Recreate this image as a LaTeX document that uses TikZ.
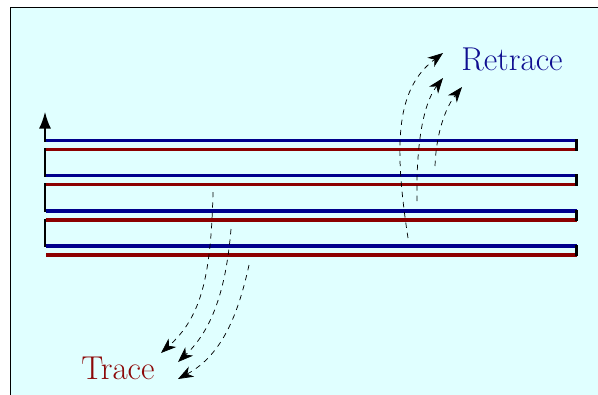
\documentclass[tikz,border=0pt]{standalone}
\usetikzlibrary{arrows.meta}
\definecolor{screenbg}{RGB}{224,255,255}
\definecolor{tracered}{RGB}{140,0,0}
\definecolor{retraceblue}{RGB}{0,0,140}
\definecolor{tracetext}{RGB}{140,8,8}
\definecolor{retracetext}{RGB}{15,15,145}
\begin{document}
\begin{tikzpicture}[x=0.75pt,y=-0.75pt,
  traceline/.style={draw=tracered, line width=2.7pt},
  retraceline/.style={draw=retraceblue, line width=2.7pt},
  flyback/.style={draw=black, line width=1.8pt},
  sweep/.style={draw=black, line width=0.55pt, dash pattern=on 4pt off 3.75pt,
    -{Stealth[length=11.5pt,width=8.5pt,inset=3.5pt]}},
  caption/.style={font=\fontsize{24.8}{30}\selectfont, inner sep=0pt, anchor=base west}]
\useasboundingbox (0,0) rectangle (598,394);
\fill[white] (0,0) rectangle (598,394);
\begin{scope}
  \clip (0,0) rectangle (598,394);
  \draw[fill=screenbg, line width=0.75pt] (10,7) rectangle (620,420);
\end{scope}

% scan lines: blue retrace above, red trace below
\foreach \i in {1,...,4}{
  \pgfmathsetmacro{\yb}{140.3+(\i-1)*35.3}
  \pgfmathsetmacro{\yr}{\yb+9}
  \coordinate (bL\i) at (46,\yb);
  \coordinate (bR\i) at (576.5,\yb);
  \coordinate (rL\i) at (46,\yr);
  \coordinate (rR\i) at (576.5,\yr);
  \coordinate (fL\i) at (45,\yb);
  \coordinate (gL\i) at (45,\yr);
  \draw[retraceline] (bL\i) -- (bR\i);
  \draw[traceline] (rL\i) -- (rR\i);
  \draw[flyback] ([yshift=0.9pt]bR\i) -- ([yshift=-0.9pt]rR\i);
}
\foreach \i/\j in {1/2,2/3,3/4}{
  \draw[flyback] ([yshift=0.9pt]gL\i) -- ([yshift=-0.9pt]fL\j);
}
\coordinate (top) at (45,111.5);
\draw[flyback, -{Latex[length=12.75pt,width=9pt]}] ([yshift=-0.9pt]fL1) -- (top);

% trace sweeps
\coordinate (t1a) at (213,192); \coordinate (t1b) at (161,353);
\coordinate (t2a) at (231,229); \coordinate (t2b) at (178,362);
\coordinate (t3a) at (249,265); \coordinate (t3b) at (178,379);
\draw[sweep] (t1a) .. controls (211,280) and (200,318) .. (t1b);
\draw[sweep] (t2a) .. controls (226,290) and (212,330) .. (t2b);
\draw[sweep] (t3a) .. controls (238,315) and (222,355) .. (t3b);

% retrace sweeps
\coordinate (r1a) at (408,238); \coordinate (r1b) at (443,53);
\coordinate (r2a) at (417,201); \coordinate (r2b) at (443,78);
\coordinate (r3a) at (435,166); \coordinate (r3b) at (462,87);
\draw[sweep] (r1a) .. controls (393,140) and (397,88) .. (r1b);
\draw[sweep] (r2a) .. controls (416,150) and (422,105) .. (r2b);
\draw[sweep] (r3a) .. controls (436,135) and (445,108) .. (r3b);

\node[caption, text=retracetext] (retrace) at (461,70) {Retrace};
\node[caption, text=tracetext] (trace) at (81,379.5) {Trace};
\end{tikzpicture}
\end{document}
